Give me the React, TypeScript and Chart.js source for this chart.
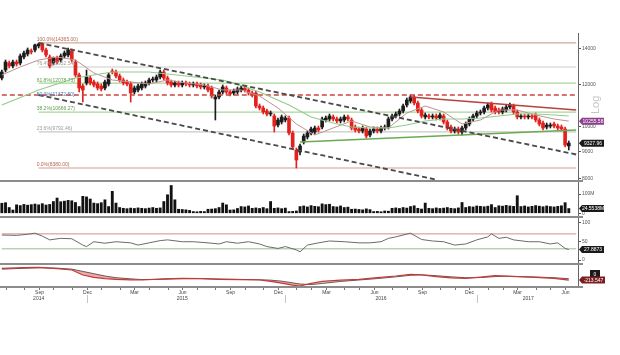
import React, { useEffect, useRef } from 'react';
import { Chart, registerables } from 'chart.js';
Chart.register(...registerables);

const FONT = '"Liberation Sans", Arial, sans-serif';

// ---- categories: weekly bars from 26 Jun 2014 (two empty weeks of room at the end)
const WEEK_COUNT = 157;
const WEEKS: string[] = Array.from({ length: WEEK_COUNT }, (_, i) =>
  new Date(Date.UTC(2014, 5, 26) + i * 7 * 864e5).toISOString().slice(0, 10)
);

// ---- weekly OHLC of the index
const OPEN = [
  12352, 12786, 13177, 13008, 13234, 13177, 13523, 13699, 13878, 13938,
  14180, 14303, 13938, 13523, 13177, 13465, 13349, 13582, 13640, 13878,
  13234, 12513, 11933, 12089, 12352, 12141, 12037, 11933, 11831, 12037,
  12731, 12676, 12459, 12246, 12141, 12037, 11628, 11729, 11831, 11933,
  12089, 12246, 12246, 12405, 12676, 12352, 12141, 11985, 12089, 11985,
  12089, 12037, 11985, 12037, 11985, 11882, 11933, 11831, 11283, 11380,
  11628, 11831, 11628, 11578, 11628, 11729, 11831, 11729, 11578, 11578,
  10947, 10853, 10714, 10577, 10486, 10087, 10218, 10306, 10396, 9744,
  9056, 8978, 9374, 9578, 9744, 9786, 9957, 10000, 10306, 10351,
  10441, 10351, 10262, 10306, 10441, 10306, 10000, 9914, 9829, 9914,
  9661, 9829, 9914, 9829, 9957, 10000, 10351, 10486, 10577, 10714,
  10994, 11186, 11380, 11089, 10760, 10441, 10486, 10441, 10486, 10396,
  10486, 10218, 10000, 9829, 9914, 9786, 9957, 10130, 10351, 10486,
  10622, 10668, 10853, 11042, 10853, 10760, 10668, 10760, 10900, 10947,
  10668, 10441, 10486, 10441, 10486, 10531, 10306, 10174, 10000, 10043,
  10130, 10043, 10000, 9914, 9214,
];
const HIGH = [
  12786, 13349, 13292, 13349, 13349, 13699, 13878, 14058, 13998, 14303,
  14365, 14365, 14058, 13640, 13523, 13582, 13699, 13878, 14058, 13998,
  13349, 12621, 12037, 12786, 12459, 12246, 12141, 12037, 12246, 12621,
  12841, 12786, 12567, 12352, 12246, 12141, 11933, 12037, 12141, 12193,
  12352, 12405, 12513, 12786, 12786, 12459, 12246, 12193, 12193, 12193,
  12193, 12141, 12141, 12141, 12089, 12037, 12037, 11933, 11479, 11729,
  11985, 11933, 11729, 11780, 11882, 11933, 11933, 11831, 11679, 11679,
  11042, 10947, 10807, 10714, 10577, 10396, 10531, 10486, 10486, 9829,
  9134, 9293, 9702, 9829, 10000, 10043, 10043, 10441, 10486, 10577,
  10531, 10441, 10441, 10531, 10531, 10396, 10087, 10000, 10043, 10000,
  9914, 10000, 10000, 10043, 10087, 10441, 10577, 10668, 10807, 11042,
  11331, 11479, 11479, 11186, 10853, 10622, 10577, 10577, 10577, 10622,
  10577, 10306, 10087, 10000, 10000, 10043, 10218, 10441, 10577, 10714,
  10760, 10947, 11089, 11137, 10947, 10853, 10900, 10994, 11089, 11042,
  10760, 10577, 10577, 10577, 10577, 10622, 10396, 10262, 10174, 10174,
  10218, 10130, 10087, 10000, 9414,
];
const LOW = [
  12246, 12676, 12896, 12896, 13008, 13064, 13407, 13582, 13699, 13818,
  14058, 13818, 13523, 12896, 13064, 13121, 13234, 13465, 13523, 13234,
  12405, 11628, 11137, 11985, 11985, 11882, 11729, 11679, 11729, 11933,
  12567, 12352, 12141, 11985, 11933, 11137, 11529, 11628, 11729, 11831,
  11985, 12141, 12141, 12299, 12246, 11985, 11882, 11882, 11882, 11882,
  11933, 11882, 11882, 11831, 11780, 11780, 11628, 11331, 10306, 11283,
  11529, 11529, 11430, 11479, 11529, 11628, 11628, 11479, 11380, 10853,
  10760, 10577, 10486, 10486, 9786, 10000, 10130, 10218, 9661, 9095,
  8380, 8863, 9293, 9496, 9661, 9702, 9786, 9914, 10218, 10262,
  10262, 10174, 10174, 10218, 10262, 9871, 9786, 9744, 9744, 9537,
  9578, 9744, 9744, 9744, 9871, 9914, 10262, 10396, 10486, 10622,
  10900, 11089, 10994, 10622, 10396, 10351, 10351, 10351, 10306, 10306,
  10130, 9871, 9744, 9744, 9702, 9661, 9871, 10043, 10262, 10396,
  10531, 10577, 10760, 10668, 10577, 10577, 10577, 10668, 10807, 10577,
  10351, 10351, 10351, 10351, 10351, 10218, 10043, 9871, 9914, 9957,
  9957, 9871, 9829, 9174, 9056,
];
const CLOSE = [
  12676, 13234, 13008, 13234, 13121, 13582, 13758, 13938, 13818, 14242,
  14303, 13938, 13640, 13008, 13465, 13234, 13582, 13758, 13938, 13349,
  12513, 11831, 11729, 12405, 12089, 11985, 11831, 11780, 12141, 12513,
  12676, 12459, 12246, 12089, 12037, 11578, 11831, 11933, 12037, 12089,
  12246, 12299, 12405, 12676, 12352, 12089, 11985, 12089, 11985, 12089,
  12037, 11985, 12037, 11933, 11882, 11933, 11729, 11430, 11380, 11628,
  11882, 11628, 11529, 11679, 11780, 11831, 11729, 11578, 11479, 10947,
  10853, 10668, 10577, 10622, 10043, 10306, 10441, 10396, 9744, 9174,
  8674, 9214, 9619, 9744, 9914, 9957, 9871, 10351, 10396, 10486,
  10351, 10262, 10351, 10441, 10351, 9957, 9871, 9829, 9957, 9619,
  9829, 9914, 9829, 9957, 10000, 10351, 10486, 10577, 10714, 10947,
  11234, 11380, 11089, 10714, 10486, 10531, 10441, 10486, 10396, 10531,
  10218, 9957, 9829, 9914, 9786, 9957, 10130, 10351, 10486, 10622,
  10668, 10853, 10994, 10760, 10668, 10668, 10807, 10900, 10994, 10668,
  10441, 10486, 10441, 10486, 10441, 10306, 10130, 9957, 10087, 10087,
  10043, 9957, 9914, 9253, 9327.96,
];

// ---- weekly volume (millions)
const VOLUME_M = [
  52, 55, 30, 17,
  44, 40, 46, 42, 45, 48, 44, 50, 43, 46,
  61, 79, 60, 63, 67, 65, 56, 35, 88, 85,
  74, 53, 50, 55, 70, 35, 114, 53, 30,
  26, 24, 27, 25, 28, 26, 24, 27, 30, 26, 28,
  61, 96, 144, 70,
  21, 20, 18, 15,
  9, 8, 10, 9,
  21, 22, 24, 30,
  53, 44, 17, 18, 25,
  35, 33, 38,
  26, 28, 25, 30, 24,
  61, 26, 28, 24, 27,
  9, 10, 12,
  35, 38, 33, 40, 36, 34,
  49, 45, 47,
  35, 33, 38, 30, 32,
  21, 22, 20, 18, 23, 19,
  9, 10, 8, 12, 11,
  26, 28, 25, 30, 27, 35,
  39, 26, 22, 53,
  26, 24, 28, 25, 27, 30, 26, 24, 28,
  56, 30,
  35, 33, 38, 36, 34, 37,
  45, 30,
  39, 37, 41, 38, 36,
  91,
  35, 38, 33, 36, 40, 37, 34, 38, 35, 33, 36, 39,
  55, 24.5538,
];

// ---- moving averages: [week index, value]
const MA_SHORT = [
  [0, 12513], [5, 12952], [10, 13349], [15, 13523], [20, 13349], [25, 12621], [30, 12246],
  [35, 12141], [40, 12037], [45, 12246], [50, 12089], [55, 11985], [60, 11729], [65, 11729],
  [70, 11430], [75, 10853], [80, 10130], [85, 9661], [90, 9957], [95, 10262], [100, 10000],
  [105, 9957], [110, 10622], [115, 10947], [120, 10668], [125, 10130], [130, 10306],
  [135, 10760], [140, 10760], [145, 10531], [150, 10351], [154, 10255.58],
];
const MA_LONG = [
  [0, 10994], [10, 11729], [20, 12352], [30, 12676], [40, 12676], [50, 12459], [60, 12246],
  [63, 12089], [70, 11628], [78, 10994], [84, 10441], [90, 10174], [95, 10000], [100, 9957],
  [105, 9957], [110, 10087], [115, 10262], [120, 10351], [125, 10351], [130, 10396],
  [135, 10486], [140, 10577], [145, 10577], [150, 10531], [154, 10486],
];

// ---- RSI (14) [week index, value]
const RSI = [
  [0, 67], [4, 66], [7, 69], [9, 72], [11, 64], [13, 54], [16, 58], [19, 57], [22, 40], [23, 36],
  [25, 49], [28, 45], [31, 49], [35, 46], [37, 40], [40, 46], [43, 52], [45, 54], [49, 49],
  [52, 49], [56, 46], [59, 43], [61, 49], [64, 45], [67, 49], [70, 43], [72, 36], [75, 31],
  [77, 36], [80, 27], [81, 22], [83, 40], [86, 46], [89, 51], [93, 49], [97, 46], [100, 46],
  [103, 49], [105, 58], [107, 62], [111, 72], [114, 55], [117, 51], [120, 49], [123, 40],
  [126, 43], [129, 54], [132, 62], [133, 70], [135, 58], [137, 61], [139, 54], [143, 49],
  [146, 49], [149, 43], [151, 46], [153, 31], [154, 27.8873],
];
const RSI_BANDS = [70, 30];

// ---- MACD and signal [week index, value]
const MACD = [
  [0, 200], [6, 225], [10, 235], [15, 190], [19, 140], [22, -35], [25, -120], [28, -160],
  [31, -190], [35, -205], [38, -210], [44, -170], [49, -150], [54, -165], [59, -185],
  [65, -195], [70, -210], [73, -260], [76, -320], [79, -390], [81, -420], [84, -330],
  [87, -260], [92, -215], [97, -185], [102, -130], [107, -70], [111, -10], [114, -30],
  [118, -95], [122, -135], [126, -150], [130, -110], [134, -60], [137, -75], [140, -95],
  [145, -120], [150, -150], [154, -213.547],
];
const SIGNAL = [
  [0, 170], [6, 200], [10, 220], [15, 205], [19, 170], [22, 90], [25, 10], [28, -70],
  [31, -130], [35, -170], [38, -195], [44, -185], [49, -160], [54, -160], [59, -175],
  [65, -190], [70, -200], [73, -215], [76, -250], [79, -310], [81, -350], [84, -370],
  [87, -330], [92, -260], [97, -210], [102, -160], [107, -100], [111, -45], [114, -30],
  [118, -60], [122, -100], [126, -130], [130, -125], [134, -90], [137, -80], [140, -88],
  [145, -105], [150, -130], [154, -165],
];

// ---- Fibonacci retracement (swing high Sep-2014 to low Jan-2016)
const FIB_PCT = ['100.0%', '76.4%', '61.8%', '50.0%', '38.2%', '23.6%', '0.0%'];
const FIB_VALUES = [14365.0, 12952.54, 12078.73, 11372.5, 10666.27, 9792.46, 8380.0];
const FIB_START_WEEK = 10;

// ---- drawn trend lines [week index, value]
const CHANNEL_UPPER = [[10, 14365], [156, 8882]];
const CHANNEL_LOWER = [[10, 11479], [118, 7971]];
const RESISTANCE = [[111, 11380], [156, 10760]];
const SUPPORT = [[81, 9374], [156, 9871]];
const HORIZONTAL_LEVEL = [[0, 11479], [156, 11479]];

// ---- axis ticks
const PRICE_TICKS = [8000, 9000, 10000, 12000, 14000];
const VOLUME_TICKS = [0, 100];
const RSI_TICKS = [0, 50, 100];
const MONTHS = ['Jan', 'Feb', 'Mar', 'Apr', 'May', 'Jun', 'Jul', 'Aug', 'Sep', 'Oct', 'Nov', 'Dec'];
const LABEL_MONTHS = [2, 5, 8, 11];
const YEAR_LABELS = ['2014', '2015', '2016', '2017'];
const YEAR_LABEL_WEEKS = ['2014-09-04', '2015-06-04', '2016-06-16', '2017-03-23'];
const YEAR_SEP_WEEKS = ['2014-12-04', '2015-12-17', '2016-12-15'];

// ---- styles
const UP = '#1c1c1c';
const DOWN = '#e3211c';
const FIB_LINE_COLORS = ['#cfa999', '#cccccc', '#a9d49b', null, '#a9d49b', '#c8c8c8', '#cf9e90'];
const FIB_TEXT_COLORS = ['#b5654f', '#9a9a9a', '#5c9e4c', '#4a78b5', '#5c9e4c', '#9a9a9a', '#b5654f'];

const pts = (arr: number[][]) => arr.map(([i, v]) => ({ x: WEEKS[i], y: v }));

function lineDs(data: any, yAxisID: string, color: string, width: number, extra: any = {}) {
  return {
    type: 'line', data, yAxisID, borderColor: color, borderWidth: width,
    pointRadius: 0, pointHoverRadius: 0, fill: false, tension: 0, spanGaps: true, ...extra,
  };
}

function drawTag(ctx: any, x: number, y: number, text: string, bg: string, w = 25) {
  const h = 7;
  ctx.fillStyle = bg;
  ctx.beginPath();
  ctx.moveTo(x, y);
  ctx.lineTo(x + 3, y - h / 2);
  ctx.lineTo(x + w, y - h / 2);
  ctx.lineTo(x + w, y + h / 2);
  ctx.lineTo(x + 3, y + h / 2);
  ctx.closePath();
  ctx.fill();
  ctx.fillStyle = '#ffffff';
  ctx.font = `5px ${FONT}`;
  ctx.textAlign = 'center';
  ctx.textBaseline = 'middle';
  ctx.fillText(text, x + 3 + (w - 3) / 2, y + 0.5);
}

const overlay = {
  id: 'overlay',
  afterDatasetsDraw(chart: any) {
    const ctx = chart.ctx;
    const xs = chart.scales.x;
    const yp = chart.scales.yPrice;
    ctx.save();
    ctx.font = `5px ${FONT}`;
    ctx.textAlign = 'left';
    ctx.textBaseline = 'bottom';
    FIB_VALUES.forEach((v, k) => {
      ctx.fillStyle = FIB_TEXT_COLORS[k];
      ctx.fillText(`${FIB_PCT[k]}(${v.toFixed(2)})`, xs.getPixelForValue(FIB_START_WEEK) - 2, yp.getPixelForValue(v) - 0.5);
    });
    ctx.restore();
  },
  afterDraw(chart: any) {
    const ctx = chart.ctx;
    const area = chart.chartArea;
    const xs = chart.scales.x;
    const { yPrice, yVol, yRsi, yMacd } = chart.scales;
    ctx.save();
    // panel separators
    ctx.strokeStyle = '#8c8c8c';
    ctx.lineWidth = 2;
    [yVol.top, yRsi.top, yMacd.top, area.bottom].forEach((y: number) => {
      ctx.beginPath();
      ctx.moveTo(0, y);
      ctx.lineTo(area.right + 5, y);
      ctx.stroke();
    });
    // time axis
    ctx.lineWidth = 1;
    ctx.strokeStyle = '#777';
    ctx.fillStyle = '#444';
    ctx.font = `5px ${FONT}`;
    ctx.textAlign = 'center';
    ctx.textBaseline = 'middle';
    for (let i = 1; i < WEEKS.length; i++) {
      const m = new Date(WEEKS[i]).getUTCMonth();
      const pm = new Date(WEEKS[i - 1]).getUTCMonth();
      if (m !== pm) {
        const x = Math.round(xs.getPixelForValue(i)) + 0.5;
        ctx.beginPath();
        ctx.moveTo(x, area.bottom + 1);
        ctx.lineTo(x, area.bottom + 3);
        ctx.stroke();
        if (LABEL_MONTHS.includes(m)) ctx.fillText(MONTHS[m], x, area.bottom + 6);
      }
    }
    YEAR_LABELS.forEach((y, k) => {
      ctx.fillText(y, xs.getPixelForValue(WEEKS.indexOf(YEAR_LABEL_WEEKS[k])), area.bottom + 12);
    });
    ctx.strokeStyle = '#c4c4c4';
    YEAR_SEP_WEEKS.forEach((w) => {
      const x = Math.round(xs.getPixelForValue(WEEKS.indexOf(w))) + 0.5;
      ctx.beginPath();
      ctx.moveTo(x, area.bottom + 8);
      ctx.lineTo(x, area.bottom + 16);
      ctx.stroke();
    });
    // value tags
    const tx = area.right + 1;
    drawTag(ctx, tx, yPrice.getPixelForValue(MA_SHORT[MA_SHORT.length - 1][1]), MA_SHORT[MA_SHORT.length - 1][1].toFixed(2), '#8e3c8c');
    drawTag(ctx, tx, yPrice.getPixelForValue(CLOSE[CLOSE.length - 1]), CLOSE[CLOSE.length - 1].toFixed(2), '#1a1a1a');
    drawTag(ctx, tx, yVol.getPixelForValue(VOLUME_M[VOLUME_M.length - 1]), `${VOLUME_M[VOLUME_M.length - 1].toFixed(4)}M`, '#1a1a1a');
    drawTag(ctx, tx, yRsi.getPixelForValue(RSI[RSI.length - 1][1]), RSI[RSI.length - 1][1].toFixed(4), '#1a1a1a');
    const z = yMacd.getPixelForValue(0);
    ctx.fillStyle = '#1a1a1a';
    ctx.fillRect(area.right + 12, z - 4, 10, 8);
    ctx.fillStyle = '#fff';
    ctx.textAlign = 'center';
    ctx.fillText('0', area.right + 17, z + 0.5);
    drawTag(ctx, tx, yMacd.getPixelForValue(MACD[MACD.length - 1][1]), MACD[MACD.length - 1][1].toFixed(3), '#7d1e1e', 26);
    // scale watermark
    ctx.translate(area.right + 18, yPrice.getPixelForValue(11000));
    ctx.rotate(-Math.PI / 2);
    ctx.fillStyle = '#c6c6c6';
    ctx.font = `11px ${FONT}`;
    ctx.fillText('Log', 0, 0);
    ctx.restore();
  },
};

const tickFont = { size: 5, family: FONT };
function yAxis(extra: any, ticks: number[], fmt: (v: number) => string, weight: number) {
  return {
    position: 'right',
    stack: 'panels',
    stackWeight: weight,
    offset: false,
    afterBuildTicks: (s: any) => { s.ticks = ticks.map((v) => ({ value: v })); },
    afterFit: (s: any) => { s.width = 42; },
    ticks: { font: tickFont, color: '#555', padding: 1, autoSkip: false, callback: (v: any) => fmt(Number(v)) },
    grid: { drawOnChartArea: false, drawTicks: true, tickLength: 3, color: '#555' },
    border: { display: true, color: '#666', width: 1 },
    ...extra,
  };
}

export default function App() {
  const ref = useRef<HTMLCanvasElement>(null);
  useEffect(() => {
    document.body.style.margin = '0';
    const colors = OPEN.map((o, i) => (CLOSE[i] >= o ? UP : DOWN));
    const datasets: any[] = [];
    FIB_VALUES.forEach((v, k) => {
      if (!FIB_LINE_COLORS[k]) return;
      datasets.push(lineDs(pts([[FIB_START_WEEK, v], [WEEK_COUNT - 1, v]]), 'yPrice', FIB_LINE_COLORS[k] as string, 1.2, { order: 10 }));
    });
    datasets.push(lineDs(pts(HORIZONTAL_LEVEL), 'yPrice', '#c9463d', 1.4, { order: 4, borderDash: [5, 3] }));
    datasets.push({
      type: 'bar', data: LOW.map((l, i) => [l, HIGH[i]]), yAxisID: 'yPrice', backgroundColor: colors,
      barThickness: 1, grouped: false, order: 6,
    });
    datasets.push({
      type: 'bar', data: OPEN.map((o, i) => [o, CLOSE[i]]), yAxisID: 'yPrice', backgroundColor: colors,
      barThickness: 3, grouped: false, minBarLength: 1, order: 5,
    });
    datasets.push(lineDs(pts(MA_LONG), 'yPrice', '#93cc8b', 1.2, { order: 3 }));
    datasets.push(lineDs(pts(MA_SHORT), 'yPrice', '#c09090', 1, { order: 3 }));
    datasets.push(lineDs(pts(RESISTANCE), 'yPrice', '#b8423a', 1.3, { order: 2 }));
    datasets.push(lineDs(pts(SUPPORT), 'yPrice', '#6aaa52', 1.3, { order: 2 }));
    datasets.push(lineDs(pts(CHANNEL_UPPER), 'yPrice', '#4a4a4a', 1.8, { order: 1, borderDash: [5, 3] }));
    datasets.push(lineDs(pts(CHANNEL_LOWER), 'yPrice', '#4a4a4a', 1.8, { order: 1, borderDash: [5, 3] }));
    datasets.push({
      type: 'bar', data: VOLUME_M, yAxisID: 'yVol', backgroundColor: '#111', barThickness: 2.2, grouped: false, order: 5,
    });
    datasets.push(lineDs(pts([[0, RSI_BANDS[0]], [WEEK_COUNT - 1, RSI_BANDS[0]]]), 'yRsi', '#d98a80', 1, { order: 4 }));
    datasets.push(lineDs(pts([[0, RSI_BANDS[1]], [WEEK_COUNT - 1, RSI_BANDS[1]]]), 'yRsi', '#8fc285', 1, { order: 4 }));
    datasets.push(lineDs(pts(RSI), 'yRsi', '#6a6a6a', 1, { order: 3 }));
    datasets.push(lineDs(pts(MACD), 'yMacd', '#c23b35', 1.2, { order: 2 }));
    datasets.push(lineDs(pts(SIGNAL), 'yMacd', '#6e5555', 1, {
      order: 3, fill: { target: '-1', above: 'rgba(232,140,140,0.75)', below: 'rgba(200,190,190,0.6)' },
    }));

    const chart = new Chart(ref.current as HTMLCanvasElement, {
      type: 'bar',
      data: { labels: WEEKS, datasets },
      options: {
        responsive: false,
        animation: false,
        devicePixelRatio: 1,
        layout: { padding: { top: 33, left: 0, right: 0, bottom: 68 } },
        plugins: { legend: { display: false }, tooltip: { enabled: false } },
        events: [],
        scales: {
          x: { type: 'category', display: false, offset: true, grid: { display: false } },
          yPrice: yAxis({ type: 'logarithmic', min: 7923, max: 14996 }, PRICE_TICKS, (v) => String(v), 148),
          yVol: yAxis({ type: 'linear', min: -19.2, max: 167.4 }, VOLUME_TICKS, (v) => (v === 0 ? '0' : `${v}M`), 36),
          yRsi: yAxis({ type: 'linear', min: -10.7, max: 115.3 }, RSI_TICKS, (v) => String(v), 47),
          yMacd: yAxis({ type: 'linear', min: -455, max: 350 }, [], (v) => String(v), 23),
        },
      } as any,
      plugins: [overlay],
    } as any);
    return () => chart.destroy();
  }, []);
  return (
    <div style={{ width: 620, height: 355, background: '#fff' }}>
      <canvas ref={ref} width={620} height={355} style={{ display: 'block' }} />
    </div>
  );
}
